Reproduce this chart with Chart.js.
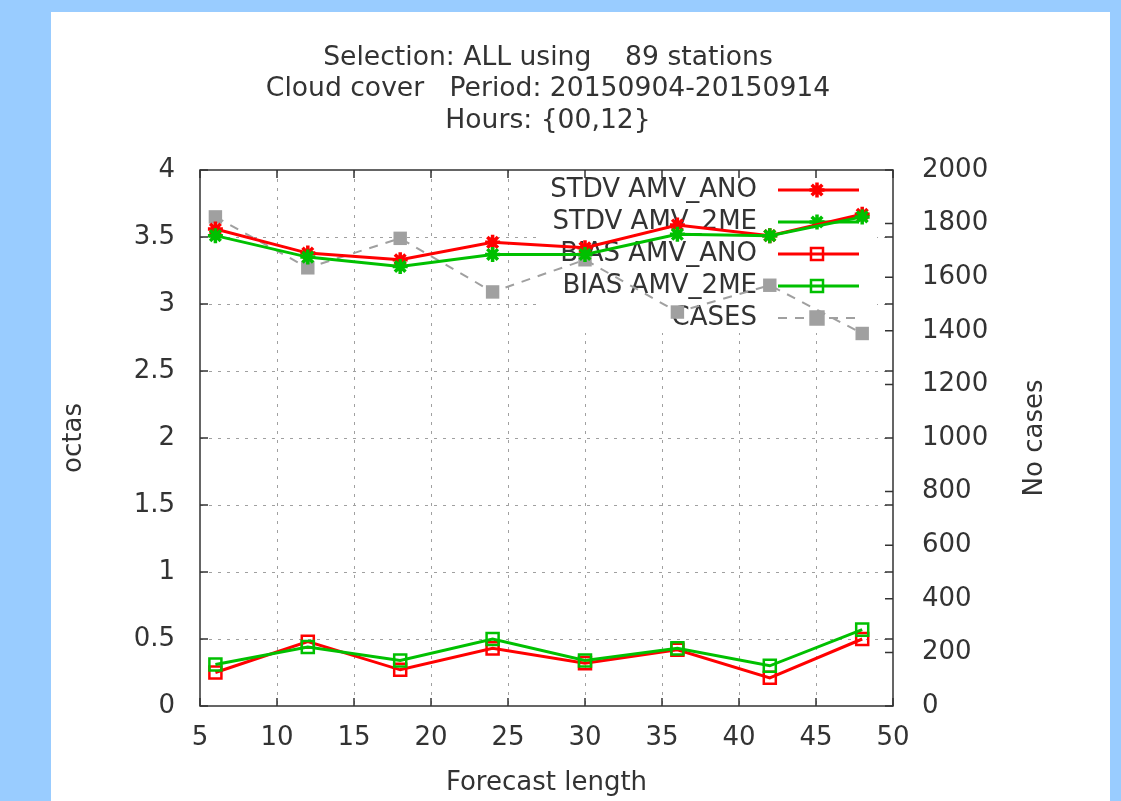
<!DOCTYPE html>
<html lang="en">
<head>
<meta charset="UTF-8">
<title>Cloud cover verification</title>
<script src="https://cdn.jsdelivr.net/npm/chart.js"></script>
<style>
  body {
    margin: 0;
    width: 1121px;
    height: 801px;
    overflow: hidden;
    background: #99ccff;
  }
  .panel {
    position: absolute;
    left: 51px;
    top: 12px;
    width: 1059px;
    height: 789px;
    background: #ffffff;
  }
</style>
</head>
<body>
<div class="panel">
  <canvas id="verif" width="1059" height="789"></canvas>
</div>

<script>
  // forecast lengths (hours) and scores
  const forecastHours = [6, 12, 18, 24, 30, 36, 42, 48];
  const stdvAno = [3.56, 3.38, 3.33, 3.46, 3.42, 3.59, 3.51, 3.67];
  const stdv2me = [3.51, 3.35, 3.28, 3.37, 3.37, 3.52, 3.51, 3.65];
  const biasAno = [0.25, 0.48, 0.27, 0.43, 0.32, 0.42, 0.21, 0.50];
  const bias2me = [0.31, 0.44, 0.34, 0.50, 0.34, 0.43, 0.30, 0.57];
  const cases   = [1825, 1635, 1745, 1545, 1665, 1470, 1570, 1390];

  // axis ticks
  const xTicks = [5, 10, 15, 20, 25, 30, 35, 40, 45, 50];
  const octasTicks = [0, 0.5, 1, 1.5, 2, 2.5, 3, 3.5, 4];
  const casesTicks = [0, 200, 400, 600, 800, 1000, 1200, 1400, 1600, 1800, 2000];

  const titleLines = [
    'Selection: ALL using    89 stations',
    'Cloud cover   Period: 20150904-20150914',
    'Hours: {00,12}'
  ];

  const FONT = '"DejaVu Sans", sans-serif';
  const FSIZE = 26;
  const INK = '#333333';
  const RED = '#ff0000';
  const GREEN = '#00c000';
  const GREY = '#a0a0a0';

  Chart.defaults.font.family = FONT;
  Chart.defaults.font.size = FSIZE;
  Chart.defaults.color = INK;

  function xy(values) {
    return forecastHours.map((h, i) => ({ x: h, y: values[i] }));
  }

  function fixedTicks(list) {
    return scale => { scale.ticks = list.map(v => ({ value: v })); };
  }

  // fallback marker drawing in case helpers are not exposed
  function marker(ctx, style, r, x, y) {
    if (Chart.helpers && Chart.helpers.drawPoint) {
      Chart.helpers.drawPoint(ctx, { pointStyle: style, radius: r, borderWidth: ctx.lineWidth, rotation: 0 }, x, y);
      return;
    }
    ctx.beginPath();
    if (style === 'rect') {
      const s = r * Math.SQRT1_2;
      ctx.rect(x - s, y - s, 2 * s, 2 * s);
      ctx.fill();
    } else {
      const d = r * Math.SQRT1_2;
      ctx.moveTo(x - r, y); ctx.lineTo(x + r, y);
      ctx.moveTo(x, y - r); ctx.lineTo(x, y + r);
      ctx.moveTo(x - d, y - d); ctx.lineTo(x + d, y + d);
      ctx.moveTo(x - d, y + d); ctx.lineTo(x + d, y - d);
    }
    if (ctx.lineWidth > 0) ctx.stroke();
  }

  // gnuplot look: dotted grid, opaque key box, framed plot with inward ticks
  const gnuplotFrame = {
    id: 'gnuplotFrame',
    beforeDatasetsDraw(chart) {
      const { ctx, chartArea: a, scales } = chart;
      ctx.save();
      ctx.strokeStyle = GREY;
      ctx.lineWidth = 1;
      ctx.setLineDash([3, 6]);
      ctx.beginPath();
      xTicks.slice(1, -1).forEach(v => {
        const px = Math.round(scales.x.getPixelForValue(v)) + 0.5;
        ctx.moveTo(px, a.top); ctx.lineTo(px, a.bottom);
      });
      octasTicks.slice(1, -1).forEach(v => {
        const py = Math.round(scales.y.getPixelForValue(v)) + 0.5;
        ctx.moveTo(a.left, py); ctx.lineTo(a.right, py);
      });
      ctx.stroke();
      ctx.setLineDash([]);

      // key
      const keyRight = 706, sampleL = 727, sampleR = 808, sampleX = 766;
      ctx.fillStyle = '#ffffff';
      ctx.fillRect(489, a.top + 1, 337, 162);
      ctx.font = FSIZE + 'px ' + FONT;
      ctx.textAlign = 'right';
      ctx.textBaseline = 'middle';
      chart.data.datasets.forEach((ds, i) => {
        const ry = 178 + i * 32;
        ctx.fillStyle = INK;
        ctx.fillText(ds.label, keyRight, ry);
        ctx.strokeStyle = ds.borderColor;
        ctx.lineWidth = ds.borderWidth;
        ctx.setLineDash(ds.borderDash || []);
        ctx.beginPath();
        ctx.moveTo(sampleL, ry); ctx.lineTo(sampleR, ry);
        ctx.stroke();
        ctx.setLineDash([]);
        ctx.strokeStyle = ds.pointBorderColor;
        ctx.fillStyle = ds.pointBackgroundColor;
        ctx.lineWidth = ds.pointBorderWidth;
        marker(ctx, ds.pointStyle, ds.pointRadius, sampleX, ry);
      });
      ctx.restore();
    },
    afterDatasetsDraw(chart) {
      const { ctx, chartArea: a, scales } = chart;
      const t = 8;
      ctx.save();
      ctx.strokeStyle = '#333333';
      ctx.lineWidth = 1.5;
      ctx.strokeRect(a.left, a.top, a.right - a.left, a.bottom - a.top);
      ctx.beginPath();
      xTicks.forEach(v => {
        const px = scales.x.getPixelForValue(v);
        ctx.moveTo(px, a.bottom); ctx.lineTo(px, a.bottom - t);
        ctx.moveTo(px, a.top); ctx.lineTo(px, a.top + t);
      });
      octasTicks.forEach(v => {
        const py = scales.y.getPixelForValue(v);
        ctx.moveTo(a.left, py); ctx.lineTo(a.left + t, py);
        ctx.moveTo(a.right, py); ctx.lineTo(a.right - t, py);
      });
      casesTicks.forEach(v => {
        const py = scales.y1.getPixelForValue(v);
        ctx.moveTo(a.right, py); ctx.lineTo(a.right - t, py);
      });
      ctx.stroke();

      ctx.fillStyle = INK;
      ctx.font = '26.6px ' + FONT;
      ctx.textAlign = 'center';
      ctx.textBaseline = 'middle';
      titleLines.forEach((line, i) => {
        ctx.fillText(line, 497, 46 + i * 31.5);
      });

      // right axis title, read bottom to top
      ctx.font = FSIZE + 'px ' + FONT;
      ctx.translate(984, (a.top + a.bottom) / 2);
      ctx.rotate(-Math.PI / 2);
      ctx.fillText('No cases', 0, 0);
      ctx.restore();
    }
  };

  const lineStyle = (color) => ({
    borderColor: color,
    borderWidth: 3,
    pointBorderColor: color,
    tension: 0
  });

  new Chart(document.getElementById('verif'), {
    type: 'line',
    data: {
      datasets: [
        Object.assign({
          label: 'STDV AMV_ANO', data: xy(stdvAno), yAxisID: 'y', order: 4,
          pointStyle: 'star', pointRadius: 7.5, pointBorderWidth: 3.5, pointBackgroundColor: RED
        }, lineStyle(RED)),
        Object.assign({
          label: 'STDV AMV_2ME', data: xy(stdv2me), yAxisID: 'y', order: 2,
          pointStyle: 'star', pointRadius: 7.5, pointBorderWidth: 3.5, pointBackgroundColor: GREEN
        }, lineStyle(GREEN)),
        Object.assign({
          label: 'BIAS AMV_ANO', data: xy(biasAno), yAxisID: 'y', order: 3,
          pointStyle: 'rect', pointRadius: 8.5, pointBorderWidth: 2.5, pointBackgroundColor: 'rgba(0,0,0,0)'
        }, lineStyle(RED)),
        Object.assign({
          label: 'BIAS AMV_2ME', data: xy(bias2me), yAxisID: 'y', order: 1,
          pointStyle: 'rect', pointRadius: 8.5, pointBorderWidth: 2.5, pointBackgroundColor: 'rgba(0,0,0,0)'
        }, lineStyle(GREEN)),
        {
          label: 'CASES', data: xy(cases), yAxisID: 'y1', order: 5,
          borderColor: GREY, borderWidth: 2, borderDash: [9, 8], tension: 0,
          pointStyle: 'rect', pointRadius: 9.5, pointBorderWidth: 0,
          pointBorderColor: GREY, pointBackgroundColor: GREY
        }
      ]
    },
    options: {
      responsive: false,
      animation: false,
      devicePixelRatio: 1,
      layout: { padding: { top: 158, left: 0, right: 0, bottom: 0 } },
      plugins: {
        legend: { display: false },
        title: { display: false },
        tooltip: { enabled: false }
      },
      scales: {
        x: {
          type: 'linear', min: 5, max: 50,
          afterBuildTicks: fixedTicks(xTicks),
          afterFit: s => { s.height = 95; },
          grid: { display: false, drawTicks: false },
          border: { display: false },
          ticks: { color: INK, padding: 17, maxRotation: 0, autoSkip: false, callback: v => String(v) },
          title: { display: true, text: 'Forecast length', color: INK, padding: { top: 0, bottom: 2 } }
        },
        y: {
          type: 'linear', position: 'left', min: 0, max: 4,
          afterBuildTicks: fixedTicks(octasTicks),
          afterFit: s => { s.width = 149; },
          grid: { display: false, drawTicks: false },
          border: { display: false },
          ticks: { color: INK, padding: 25, autoSkip: false, callback: v => String(v) },
          title: { display: true, text: 'octas', color: INK, padding: { top: 8, bottom: 0 } }
        },
        y1: {
          type: 'linear', position: 'right', min: 0, max: 2000,
          afterBuildTicks: fixedTicks(casesTicks),
          afterFit: s => { s.width = 217; },
          grid: { display: false, drawTicks: false },
          border: { display: false },
          ticks: { color: INK, padding: 29, autoSkip: false, callback: v => String(v) },
          title: { display: false }
        }
      }
    },
    plugins: [gnuplotFrame]
  });
</script>
</body>
</html>
